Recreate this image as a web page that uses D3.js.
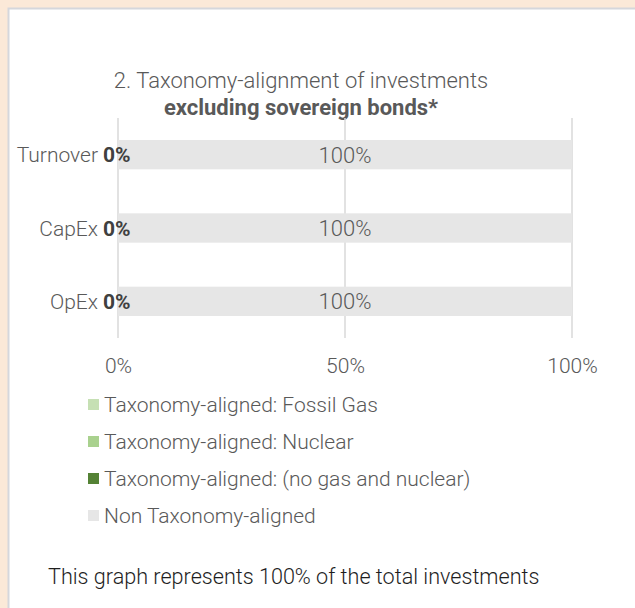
<!DOCTYPE html>
<html>
<head>
<meta charset="utf-8">
<script src="https://cdn.jsdelivr.net/npm/d3@7"></script>
<style>
  html, body { margin: 0; background: #fff; overflow: hidden; }
  svg { display: block; }
  text { font-family: "Roboto", "Open Sans", sans-serif; }
</style>
</head>
<body>
<script>
// chart data
var categories = ["Turnover", "CapEx", "OpEx"];
var fossilGas = [0, 0, 0];
var nuclear = [0, 0, 0];
var alignedOther = [0, 0, 0];
var nonAligned = [100, 100, 100];
var xTicks = [0, 50, 100];
var seriesNames = ["Taxonomy-aligned: Fossil Gas", "Taxonomy-aligned: Nuclear",
                   "Taxonomy-aligned: (no gas and nuclear)", "Non Taxonomy-aligned"];
var seriesColors = ["#c6e0b4", "#a9d18e", "#548235", "#e6e6e6"];

var W = 635, H = 608;

var svg = d3.select("body").append("svg")
    .attr("width", W)
    .attr("height", H);

// beige frame strips (top and left), white panel with thin grey border
svg.append("rect")
    .attr("width", W).attr("height", 8)
    .attr("fill", "#fbe9d8");
svg.append("rect")
    .attr("width", 8).attr("height", H)
    .attr("fill", "#fbe9d8");
svg.append("path")
    .attr("d", "M8.5," + H + "V8.5H" + W)
    .attr("fill", "none")
    .attr("stroke", "#d5d7dc")
    .attr("stroke-width", 2);

// title
var title = svg.append("text")
    .attr("text-anchor", "middle")
    .attr("fill", "#595959");
title.append("tspan").attr("x", 301).attr("y", 88)
    .style("font-size", "22px").style("font-weight", 300)
    .text("2. Taxonomy-alignment of investments");
title.append("tspan").attr("x", 301).attr("y", 115)
    .style("font-size", "22px").style("font-weight", 700)
    .text("excluding sovereign bonds*");

var x = d3.scaleLinear().domain([0, 100]).range([118, 572]);
var y = d3.scaleBand().domain(categories).range([118, 338])
    .paddingInner(0.6).paddingOuter(0.3);

// gridlines
svg.append("g").selectAll("line")
    .data(xTicks)
    .join("line")
    .attr("x1", d => x(d)).attr("x2", d => x(d))
    .attr("y1", 118).attr("y2", 338)
    .attr("stroke", "#d9d9d9")
    .attr("stroke-width", 1.5);

// stacked bars
var rows = categories.map(function(c, i) {
  return {cat: c, s0: fossilGas[i], s1: nuclear[i], s2: alignedOther[i], s3: nonAligned[i]};
});
var stack = d3.stack().keys(["s0", "s1", "s2", "s3"]);
var layers = stack(rows);

svg.append("g").selectAll("g")
    .data(layers)
    .join("g")
    .attr("fill", (d, i) => seriesColors[i])
    .selectAll("rect")
    .data(d => d)
    .join("rect")
    .attr("x", d => x(d[0]))
    .attr("width", d => x(d[1]) - x(d[0]))
    .attr("y", d => y(d.data.cat))
    .attr("height", y.bandwidth());

// non-aligned value label in the middle of its segment
svg.append("g").selectAll("text")
    .data(layers[3])
    .join("text")
    .attr("x", d => x((d[0] + d[1]) / 2))
    .attr("y", d => y(d.data.cat) + y.bandwidth() / 2)
    .attr("dy", "0.36em")
    .attr("text-anchor", "middle")
    .attr("fill", "#595959")
    .style("font-size", "22px")
    .style("font-weight", 300)
    .text(d => d.data.s3 + "%");

// category labels
svg.append("g").selectAll("text")
    .data(rows)
    .join("text")
    .attr("x", 98)
    .attr("y", d => y(d.cat) + y.bandwidth() / 2)
    .attr("dy", "0.36em")
    .attr("text-anchor", "end")
    .attr("fill", "#595959")
    .style("font-size", "21px")
    .style("font-weight", 300)
    .text(d => d.cat);

// aligned total (bold)
svg.append("g").selectAll("text")
    .data(rows)
    .join("text")
    .attr("x", 103)
    .attr("y", d => y(d.cat) + y.bandwidth() / 2)
    .attr("dy", "0.36em")
    .attr("fill", "#404040")
    .style("font-size", "21px")
    .style("font-weight", 700)
    .text(d => (d.s0 + d.s1 + d.s2) + "%");

// x axis tick labels
var xAxis = svg.append("g")
    .attr("transform", "translate(0,338)")
    .call(d3.axisBottom(x).tickValues(xTicks).tickSize(0).tickPadding(20).tickFormat(d => d + "%"));
xAxis.select(".domain").remove();
xAxis.selectAll("text")
    .attr("fill", "#595959")
    .style("font-size", "21px")
    .style("font-weight", 300)
    .style("font-family", "Roboto, 'Open Sans', sans-serif");

// legend
var legend = svg.append("g").selectAll("g")
    .data(seriesNames)
    .join("g")
    .attr("transform", (d, i) => "translate(88," + (399 + i * 37) + ")");
legend.append("rect")
    .attr("width", 11).attr("height", 11)
    .attr("fill", (d, i) => seriesColors[i]);
legend.append("text")
    .attr("x", 16).attr("y", 5.5)
    .attr("dy", "0.36em")
    .attr("fill", "#595959")
    .style("font-size", "21px")
    .style("font-weight", 300)
    .text(d => d);

// footnote
svg.append("text")
    .attr("x", 48).attr("y", 584)
    .attr("fill", "#1e1e1e")
    .style("font-size", "21.6px")
    .style("font-weight", 300)
    .text("This graph represents 100% of the total investments");
</script>
</body>
</html>
